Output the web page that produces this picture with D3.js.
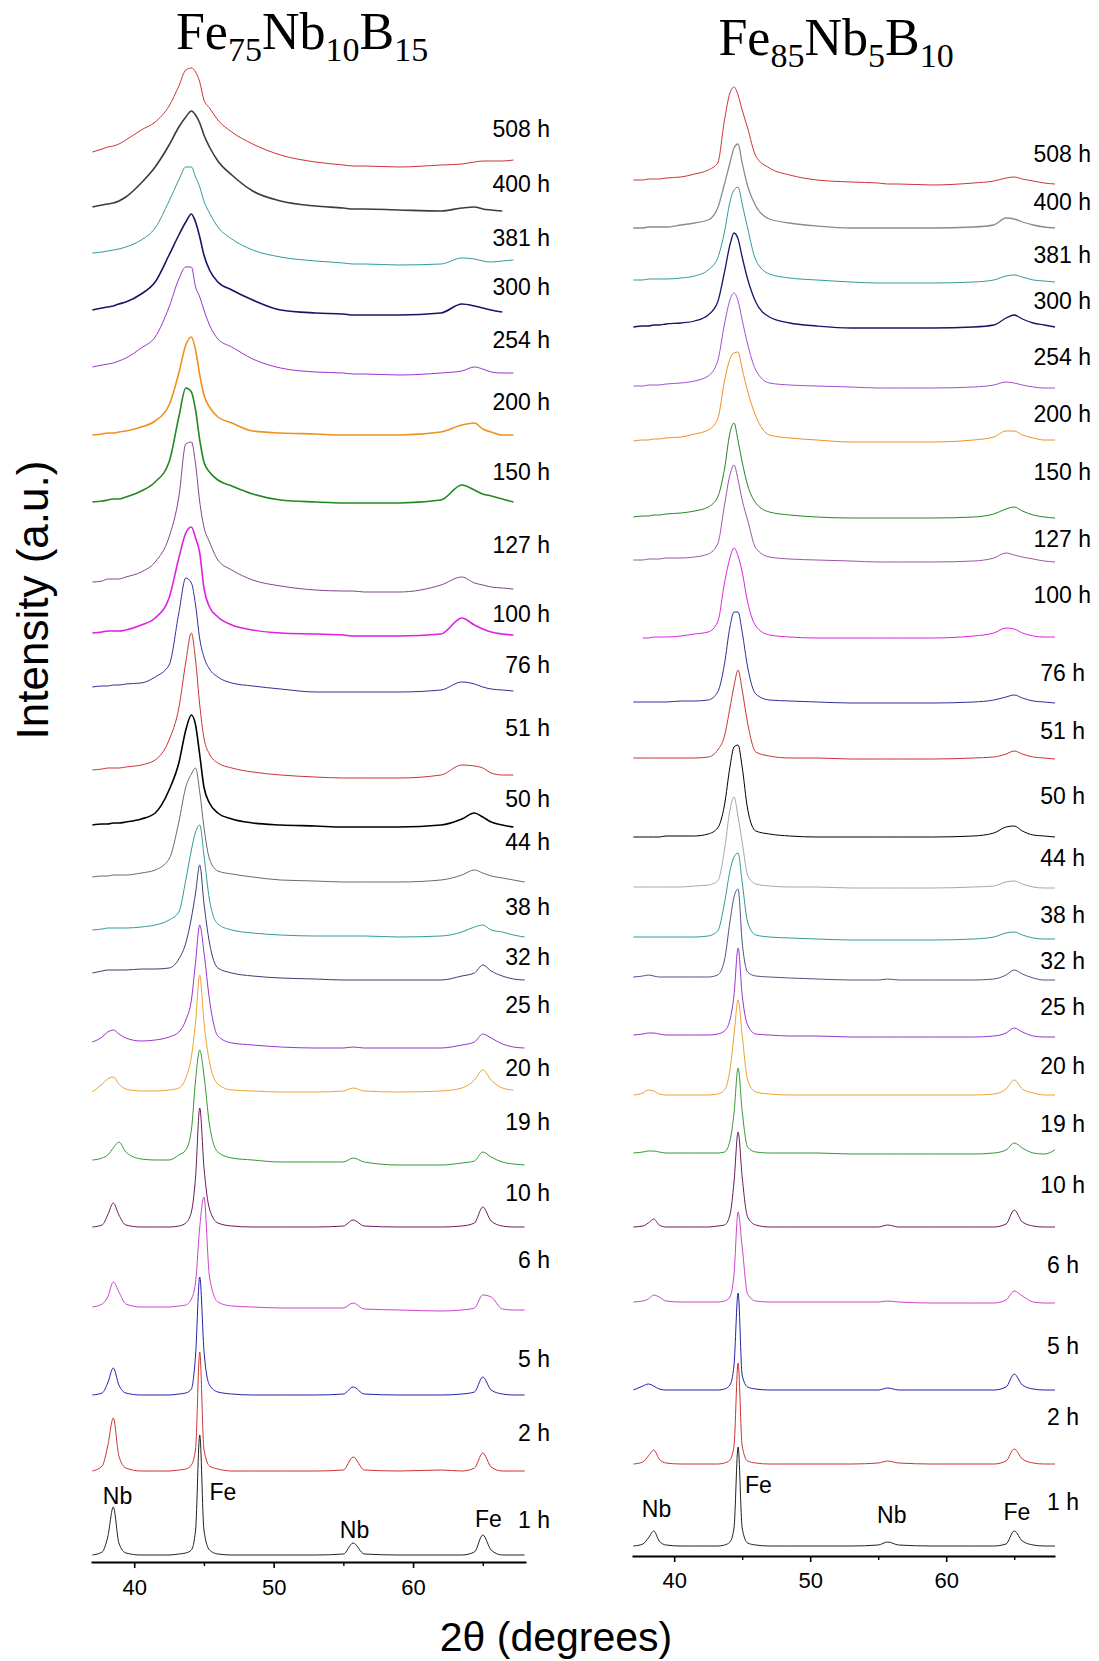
<!DOCTYPE html>
<html><head><meta charset="utf-8">
<script src="https://cdn.jsdelivr.net/npm/d3@7"></script>
<style>body{margin:0;background:#fff}</style>
</head><body><svg id="c" width="1099" height="1661"></svg>
<script>
// ---- data ----
const theta = [37, 37.7, 38.1, 38.5, 38.9, 39.4, 40.5, 41.5, 42.5, 43.2, 43.7, 44.1, 44.4, 44.7, 45.0, 45.4, 46.0, 47.0, 48.5, 50.5, 53, 55, 55.7, 56.5, 59, 62, 63.5, 64.4, 65.0, 65.6, 66.4, 67.2, 68];
const hours = ["508 h","400 h","381 h","300 h","254 h","200 h","150 h","127 h","100 h","76 h","51 h","50 h","44 h","38 h","32 h","25 h","20 h","19 h","10 h","6 h","5 h","2 h","1 h"];
const leftColors = ["#cc3333","#3c3c3c","#339999","#161666","#9933cc","#f09020","#228822","#84448e","#e020e0","#2e2e9a","#cc3333","#000000","#6a6a6a","#339999","#3c3c78","#9933cc","#f0a030","#339933","#6a1a5a","#cc44cc","#2222aa","#cc3333","#222222"];
const rightColors = ["#cc3333","#8c8c8c","#339999","#161666","#a050d0","#f09020","#228822","#9a55a5","#e020e0","#2e2e9a","#cc3333","#000000","#a8a8a8","#339999","#50508c","#9933cc","#f0a030","#339933","#6a1a5a","#cc44cc","#2222aa","#cc3333","#222222"];
const leftBase = [1410,1355,1309,1252,1195,1127,1060,980,929,875,792,737,685,632,589,520,470,402,335,255,167,91,7];
const rightBase = [1376,1328,1276,1229,1170,1115,1039,996,918,854,798,719,669,619,579,521,461,403,329,254,166,92,10];
const leftProfiles = [
 [0,3,5,6,8,12,22,30,46,66,82,84,80,70,52,44,32,20,8,-3,-10,-13,-14,-14,-15,-13,-12,-10,-9,-9,-9,-8,null],
 [0,2,3,4,6,10,24,40,62,80,90,96,92,84,72,60,46,32,16,6,1,-1,-2,-2,-3,-4,-1,0,-2,-3,-4,null,null],
 [0,1,2,3,4,6,13,25,52,73,86,86,76,66,52,40,26,14,3,-4,-8,-10,-11,-11,-12,-11,-5,-6,-8,-9,-8,-7,null],
 [0,2,3,4,6,8,16,28,55,75,88,96,88,73,55,40,28,20,10,0,-3,-4,-5,-5,-5,-3,6,4,2,0,-2,null,null],
 [0,2,3,4,6,9,19,30,60,88,100,100,80,70,57,42,28,20,8,-1,-5,-6,-7,-7,-8,-6,-4,0,-2,-5,-6,-6,null],
 [0,1,2,2,3,4,8,14,30,62,90,98,85,60,40,28,18,12,4,2,1,0,0,0,0,3,10,12,6,3,0,0,null],
 [0,1,2,3,3,5,11,20,40,85,114,110,92,62,40,30,22,16,8,2,0,-1,-1,-1,-1,2,17,12,8,6,3,0,null],
 [0,1,3,3,3,5,10,20,45,85,138,140,118,80,55,40,22,12,2,-4,-8,-9,-9,-10,-10,-3,5,-1,-3,-5,-6,-7,null],
 [0,1,2,2,2,3,8,15,35,75,100,106,95,80,45,26,16,8,3,0,-1,-2,-3,-3,-3,-1,15,8,4,1,-1,-2,null],
 [0,1,1,2,2,3,4,10,22,74,109,104,82,48,30,18,10,4,1,-2,-5,-5,-5,-5,-5,-3,5,3,0,-2,-3,-4,null],
 [0,1,2,2,2,3,5,10,30,62,108,137,110,65,32,16,7,2,-2,-5,-7,-8,-8,-8,-8,-5,5,4,2,-3,-5,-5,null],
 [0,1,1,2,2,3,6,12,35,62,95,110,100,70,38,22,12,6,2,0,-1,-2,-2,-2,-2,0,6,12,8,3,0,-2,null],
 [0,1,1,2,2,2,4,7,18,55,90,103,109,85,50,18,6,3,0,-3,-4,-5,-5,-5,-5,-3,2,7,4,1,-1,-3,-5],
 [0,1,2,2,2,2,3,5,10,18,50,80,98,105,75,30,6,0,-3,-5,-6,-6,-6,-6,-7,-6,-2,3,5,0,-2,-5,-7],
 [0,2,3,3,3,3,4,4,5,14,30,55,80,108,70,30,5,0,-3,-5,-6,-7,-7,-7,-7,-7,-3,0,8,2,-3,-6,-7],
 [0,5,10,12,8,4,1,2,5,10,22,42,80,117,90,42,6,-1,-3,-5,-6,-6,-5,-6,-6,-6,-3,0,8,4,-2,-5,-6],
 [0,8,13,15,8,3,1,1,2,4,14,35,70,117,70,30,8,2,1,0,0,1,4,1,0,1,4,12,22,12,4,2,null],
 [0,2,5,12,18,8,1,0,0,5,10,30,80,110,85,35,8,2,0,-2,-2,-2,2,-2,-5,-5,-3,-1,8,3,-2,-4,-5],
 [0,2,12,24,12,2,0,0,0,1,4,15,50,119,60,18,4,1,0,0,0,1,7,1,0,0,1,4,20,6,1,0,0],
 [0,3,10,25,15,3,0,0,0,1,2,8,25,80,110,30,5,1,0,-1,-1,-1,4,-2,-3,-4,-3,-1,12,10,-2,-3,-3],
 [0,2,12,27,10,2,0,0,0,1,2,6,40,118,45,10,3,1,0,0,0,1,8,1,0,0,1,3,18,5,1,0,0],
 [0,5,25,53,15,3,0,0,0,1,2,6,22,119,22,5,2,0,0,0,0,1,14,1,0,1,0,3,18,4,0,0,0],
 [0,3,18,48,12,2,0,0,0,1,2,5,25,120,25,5,1,0,0,0,0,1,12,1,0,0,0,3,20,5,0,0,0]
];
const rightProfiles = [
 [0,0,1,1,1,2,3,6,10,17,60,87,93,85,70,52,24,12,5,0,-2,-3,-4,-4,-5,-3,-1,2,3,1,-1,-3,-4],
 [0,0,1,1,1,1,3,5,8,20,44,65,80,84,65,42,22,9,5,2,0,0,0,0,0,1,3,10,9,6,3,1,0],
 [0,0,1,1,1,1,2,4,10,22,48,78,90,93,76,52,20,6,2,0,-2,-3,-3,-3,-3,-2,0,4,5,3,0,-1,-2],
 [0,1,1,2,2,3,4,6,12,25,55,82,94,88,70,48,25,10,4,1,-1,-1,-1,-1,-1,0,2,9,12,8,4,2,0],
 [0,0,1,1,1,2,3,5,10,25,62,86,93,85,66,42,16,3,1,0,-1,-2,-2,-2,-2,-1,1,4,3,1,-1,-2,-2],
 [0,1,1,2,2,3,4,7,11,22,60,82,88,89,72,50,25,6,3,1,-1,-1,-1,-1,-1,1,4,10,10,6,3,1,1],
 [0,1,1,2,2,3,4,6,10,20,48,84,94,76,55,32,14,5,2,0,-1,-1,-1,-1,-1,0,3,8,10,6,2,0,-1],
 [0,0,1,1,1,2,2,3,6,16,55,85,95,80,60,40,12,3,1,0,-1,-2,-2,-2,-2,-1,2,7,5,3,1,-1,-2],
 [null,0,0,1,1,1,2,4,6,16,55,80,90,82,66,36,12,3,1,0,0,0,0,0,0,2,5,10,9,5,2,1,1],
 [0,0,0,0,0,0,1,1,2,10,38,75,90,90,70,35,8,2,1,0,-1,-1,-1,-1,-1,0,2,5,7,4,1,0,-1],
 [0,0,0,0,0,0,0,0,1,8,22,50,72,88,68,35,6,2,0,0,-1,-1,-1,-1,-1,0,1,4,7,4,1,0,-1],
 [0,0,0,0,0,1,1,1,3,9,32,70,90,92,70,28,6,3,1,0,0,0,0,0,0,1,4,10,11,6,2,1,0],
 [0,0,0,0,0,0,0,1,2,6,37,77,90,70,45,12,3,1,0,0,-1,-1,-1,-1,-1,0,1,5,6,3,0,-1,-1],
 [0,0,0,0,0,0,0,0,1,6,34,66,80,84,55,15,2,0,-1,-2,-3,-3,-3,-3,-3,-2,0,4,5,2,-1,-2,-2],
 [0,1,2,1,0,0,0,0,0,2,17,55,80,88,35,5,1,0,-1,-2,-3,-3,-2,-3,-3,-3,-2,2,7,3,-1,-3,-3],
 [0,1,2,2,1,0,0,0,0,1,4,15,40,87,40,10,1,0,-1,-1,-2,-2,-2,-2,-2,-2,-1,2,7,3,-1,-2,-2],
 [0,2,5,4,1,0,0,0,0,1,5,25,60,95,60,15,3,1,0,0,0,0,0,0,0,0,1,6,15,6,2,0,0],
 [0,1,2,2,1,0,0,0,0,0,1,12,40,85,42,6,1,0,0,0,-1,-1,-1,-1,-1,-1,0,3,10,5,0,-1,3],
 [0,1,4,8,2,0,0,0,0,1,2,12,45,95,50,10,2,0,0,0,0,0,2,0,0,0,0,3,17,5,1,0,0],
 [0,1,3,7,5,1,0,0,0,0,1,5,28,90,55,8,1,0,0,0,0,0,1,0,-1,-1,-1,2,11,6,0,-1,-1],
 [0,4,6,4,1,0,0,0,0,0,1,5,25,97,15,3,1,0,0,0,0,0,2,0,0,0,0,3,16,5,1,0,0],
 [0,2,8,14,5,1,0,0,0,0,1,4,18,101,18,3,1,0,0,0,0,1,3,1,0,0,0,3,15,5,1,0,0],
 [0,2,8,15,5,1,0,0,0,0,1,4,18,99,18,3,1,0,0,0,0,1,4,1,0,0,0,2,15,5,1,0,0]
];
const majorTicks = [40, 50, 60];
const minorTicks = [45, 55, 65];
const peakNames = ["Nb", "Fe", "Nb", "Fe"];
const leftPeakTheta = [38.8, 45.4, 55.8, 65.4];
const rightPeakTheta = [38.7, 45.2, 56.0, 65.2];

// ---- layout ----
const panels = [
  {profiles:leftProfiles, base:leftBase, colors:leftColors, dom:[36.9,68.1], range:[91,526], axisY:1562,
   labelY:[137,192,246,295,348,410,480,553,622,673,736,807,850,915,965,1013,1076,1130,1201,1268,1367,1441,1528],
   labelEnd:(t)=>550, heavy:[1,3,5,6,8,11], heavyW:1.6,
   peakTheta:leftPeakTheta, peakDy:[-58,-62,-24,-35], peakAnchor:["middle","start","middle","middle"], tickPad:11},
  {profiles:rightProfiles, base:rightBase, colors:rightColors, dom:[36.9,68.0], range:[632,1055], axisY:1556,
   labelY:[162,210,263,309,365,422,480,547,603,681,739,804,866,923,969,1015,1074,1132,1193,1273,1354,1425,1510],
   labelEnd:(t)=>1091 - (3 - t.replace(" h","").length)*6, heavy:[1,3], heavyW:1.3,
   peakTheta:rightPeakTheta, peakDy:[-39,-63,-33,-36], peakAnchor:["middle","start","middle","middle"], tickPad:10}
];

const svg = d3.select("#c");
const SANS = "'Liberation Sans', Arial, sans-serif";
const SERIF = "'Liberation Serif', 'Times New Roman', serif";

panels.forEach(p => {
  const x = d3.scaleLinear().domain(p.dom).range(p.range);
  const y = d3.scaleLinear().domain([0, 1600]).range([p.axisY, p.axisY - 1600]);
  const g = svg.append("g");
  hours.forEach((h, i) => {
    const pts = theta.map((t, k) => [t, p.profiles[i][k] == null ? null : p.base[i] + p.profiles[i][k]]);
    const line = d3.line().defined(d => d[1] != null)
      .x(d => x(d[0])).y(d => y(d[1])).curve(d3.curveMonotoneX);
    g.append("path").attr("d", line(pts)).attr("fill", "none")
      .attr("stroke", p.colors[i]).attr("stroke-width", p.heavy.includes(i) ? p.heavyW : 1)
      .attr("stroke-linejoin", "round");
    g.append("text").attr("x", p.labelEnd(h)).attr("y", p.labelY[i])
      .attr("text-anchor", "end").attr("font-family", SANS).attr("font-size", 23)
      .attr("fill", "#000").text(h);
  });
  peakNames.forEach((n, k) => {
    g.append("text").attr("x", x(p.peakTheta[k])).attr("y", p.axisY + p.peakDy[k])
      .attr("text-anchor", p.peakAnchor[k]).attr("font-family", SANS).attr("font-size", 23)
      .attr("fill", "#000").text(n);
  });
  const ax = g.append("g").attr("transform", `translate(0,${p.axisY})`)
    .call(d3.axisBottom(x).tickValues(majorTicks).tickSize(6).tickSizeOuter(0).tickPadding(p.tickPad).tickFormat(d3.format("d")));
  ax.select(".domain").attr("stroke-width", 2.2).attr("stroke", "#000");
  ax.selectAll(".tick line").attr("stroke-width", 1.6);
  ax.selectAll(".tick text").attr("font-family", SANS).attr("font-size", 22).attr("fill", "#000");
  const mx = g.append("g").attr("transform", `translate(0,${p.axisY})`)
    .call(d3.axisBottom(x).tickValues(minorTicks).tickSize(4).tickSizeOuter(0).tickFormat(""));
  mx.select(".domain").remove();
  mx.selectAll(".tick line").attr("stroke-width", 1.4);
});

// titles
function title(cx, by, parts) {
  const t = svg.append("text").attr("x", cx).attr("y", by).attr("text-anchor", "middle")
    .attr("font-family", SERIF).attr("font-size", 52).attr("fill", "#000");
  let sub = false;
  parts.forEach(([s, isSub]) => {
    const ts = t.append("tspan").text(s);
    if (isSub && !sub) ts.attr("dy", 12).attr("font-size", 34);
    else if (isSub) ts.attr("font-size", 34);
    else if (!isSub && sub) ts.attr("dy", -12);
    sub = isSub;
  });
}
title(302, 49, [["Fe",0],["75",1],["Nb",0],["10",1],["B",0],["15",1]]);
title(836, 55, [["Fe",0],["85",1],["Nb",0],["5",1],["B",0],["10",1]]);

svg.append("text").attr("transform", "translate(48,600) rotate(-90)").attr("text-anchor", "middle")
  .attr("font-family", SANS).attr("font-size", 44).attr("fill", "#000").text("Intensity (a.u.)");
svg.append("text").attr("x", 556).attr("y", 1651).attr("text-anchor", "middle")
  .attr("font-family", SANS).attr("font-size", 41).attr("fill", "#000").text("2θ (degrees)");
</script></body></html>
